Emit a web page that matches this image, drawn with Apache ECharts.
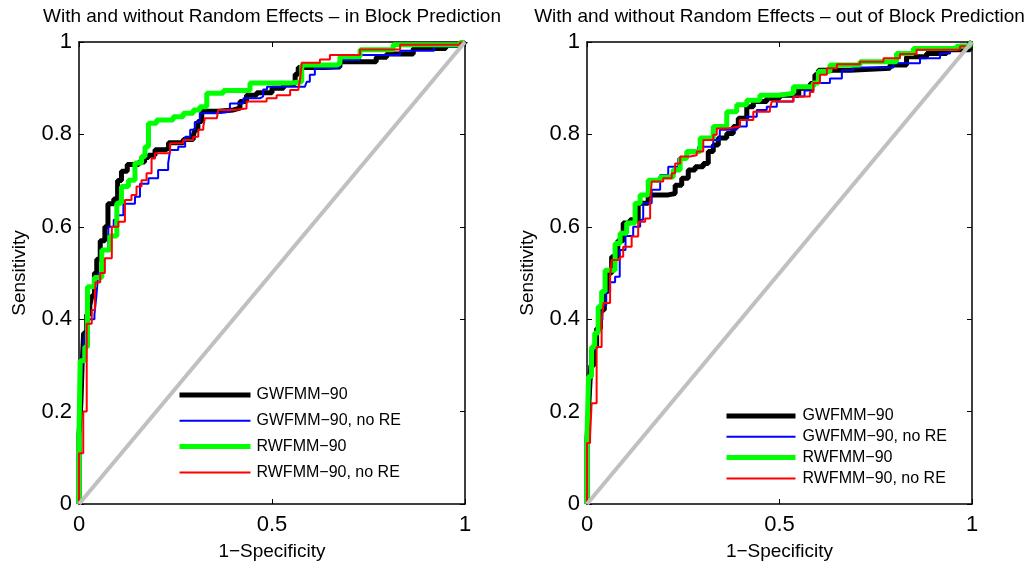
<!DOCTYPE html>
<html><head><meta charset="utf-8">
<script src="https://cdn.jsdelivr.net/npm/echarts@6/dist/echarts.min.js"></script>
<style>html,body{margin:0;padding:0;background:#fff}#c{width:1035px;height:572px}</style>
</head><body><div id="c"></div>
<script>
// ---------- data ----------
const panelTitles = ['With and without Random Effects \u2013 in Block Prediction',
                     'With and without Random Effects \u2013 out of Block Prediction'];
const seriesNames = ['GWFMM\u221290', 'GWFMM\u221290, no RE', 'RWFMM\u221290', 'RWFMM\u221290, no RE'];
const xLabelName = '1\u2212Specificity';
const yLabelName = 'Sensitivity';
const diagonal = [[0, 0], [1, 1]];

// In-block prediction ROC points [1-specificity, sensitivity]
const inGW = [[0,0],[0,0.15],[0.005,0.22],[0.008,0.3],[0.012,0.37],[0.02,0.41],[0.028,0.43],[0.033,0.45],[0.04,0.5],[0.046,0.53],[0.055,0.57],[0.067,0.6],[0.075,0.65],[0.09,0.66],[0.1,0.7],[0.11,0.72],[0.125,0.735],[0.155,0.74],[0.17,0.75],[0.18,0.755],[0.197,0.767],[0.225,0.77],[0.232,0.782],[0.27,0.789],[0.296,0.797],[0.3,0.81],[0.308,0.828],[0.318,0.85],[0.36,0.853],[0.4,0.857],[0.417,0.871],[0.434,0.885],[0.46,0.89],[0.5,0.9],[0.53,0.91],[0.56,0.93],[0.568,0.945],[0.633,0.946],[0.676,0.957],[0.77,0.967],[0.797,0.974],[0.866,0.986],[0.95,0.993],[0.99,0.998],[1,1]];
const inGWnoRE = [[0,0],[0,0.15],[0.005,0.25],[0.01,0.33],[0.015,0.37],[0.025,0.4],[0.04,0.41],[0.045,0.45],[0.05,0.5],[0.06,0.55],[0.076,0.6],[0.09,0.615],[0.1,0.625],[0.115,0.65],[0.145,0.665],[0.158,0.693],[0.18,0.705],[0.205,0.723],[0.231,0.737],[0.236,0.766],[0.257,0.773],[0.275,0.795],[0.288,0.81],[0.3,0.827],[0.313,0.846],[0.357,0.849],[0.391,0.867],[0.426,0.878],[0.469,0.882],[0.477,0.897],[0.487,0.903],[0.585,0.905],[0.59,0.914],[0.598,0.929],[0.611,0.943],[0.637,0.944],[0.676,0.961],[0.728,0.972],[0.832,0.981],[0.92,0.99],[0.987,0.997],[1,1]];
const inRW = [[0,0],[0,0.15],[0.003,0.31],[0.015,0.34],[0.022,0.47],[0.04,0.49],[0.059,0.55],[0.08,0.58],[0.098,0.651],[0.11,0.687],[0.128,0.701],[0.145,0.738],[0.162,0.752],[0.171,0.773],[0.18,0.824],[0.201,0.831],[0.244,0.838],[0.27,0.846],[0.296,0.853],[0.313,0.86],[0.331,0.889],[0.374,0.895],[0.443,0.911],[0.547,0.914],[0.577,0.95],[0.668,0.954],[0.676,0.968],[0.728,0.983],[0.814,0.994],[0.987,0.999],[1,1]];
const inRWnoRE = [[0,0],[0,0.11],[0.011,0.2],[0.02,0.39],[0.033,0.42],[0.041,0.45],[0.043,0.48],[0.055,0.5],[0.067,0.532],[0.085,0.6],[0.102,0.611],[0.119,0.658],[0.136,0.669],[0.149,0.687],[0.162,0.701],[0.175,0.716],[0.188,0.748],[0.197,0.759],[0.227,0.76],[0.236,0.781],[0.27,0.788],[0.296,0.795],[0.309,0.81],[0.322,0.817],[0.326,0.835],[0.357,0.838],[0.361,0.853],[0.4,0.856],[0.434,0.871],[0.486,0.878],[0.512,0.885],[0.547,0.896],[0.568,0.9],[0.573,0.921],[0.577,0.955],[0.624,0.962],[0.65,0.972],[0.728,0.984],[0.832,0.994],[0.987,0.999],[1,1]];

// Out-of-block prediction ROC points
const outGW = [[0,0],[0,0.14],[0.005,0.22],[0.01,0.3],[0.018,0.34],[0.025,0.38],[0.035,0.42],[0.045,0.46],[0.055,0.5],[0.064,0.535],[0.08,0.57],[0.094,0.608],[0.112,0.615],[0.133,0.651],[0.159,0.669],[0.211,0.672],[0.229,0.69],[0.246,0.705],[0.263,0.723],[0.281,0.73],[0.302,0.737],[0.315,0.763],[0.328,0.777],[0.341,0.792],[0.363,0.802],[0.38,0.817],[0.393,0.835],[0.415,0.86],[0.432,0.871],[0.467,0.878],[0.5,0.885],[0.55,0.9],[0.58,0.91],[0.592,0.929],[0.601,0.939],[0.683,0.943],[0.787,0.95],[0.83,0.968],[0.882,0.975],[0.934,0.983],[0.995,0.997],[1,1]];
const outGWnoRE = [[0,0],[0,0.24],[0.008,0.333],[0.02,0.37],[0.03,0.398],[0.04,0.43],[0.05,0.46],[0.06,0.48],[0.073,0.492],[0.085,0.55],[0.1,0.58],[0.12,0.6],[0.138,0.615],[0.146,0.651],[0.168,0.68],[0.19,0.712],[0.211,0.73],[0.237,0.748],[0.259,0.759],[0.289,0.773],[0.328,0.788],[0.345,0.81],[0.389,0.817],[0.415,0.838],[0.441,0.853],[0.467,0.86],[0.493,0.871],[0.536,0.882],[0.565,0.895],[0.588,0.911],[0.631,0.921],[0.662,0.939],[0.692,0.945],[0.796,0.954],[0.865,0.965],[0.917,0.975],[0.943,0.986],[0.969,0.994],[0.995,0.999],[1,1]];
const outRW = [[0,0],[0,0.14],[0.004,0.276],[0.012,0.34],[0.02,0.37],[0.029,0.427],[0.038,0.46],[0.047,0.506],[0.073,0.564],[0.086,0.586],[0.103,0.608],[0.125,0.651],[0.138,0.669],[0.159,0.701],[0.19,0.708],[0.224,0.723],[0.242,0.748],[0.259,0.763],[0.294,0.792],[0.328,0.817],[0.363,0.849],[0.389,0.864],[0.415,0.874],[0.449,0.885],[0.501,0.889],[0.536,0.903],[0.588,0.911],[0.601,0.936],[0.631,0.95],[0.709,0.957],[0.804,0.975],[0.848,0.986],[0.96,0.991],[0.995,0.997],[1,1]];
const outRWnoRE = [[0,0],[0,0.132],[0.008,0.146],[0.012,0.218],[0.025,0.34],[0.038,0.398],[0.043,0.435],[0.06,0.492],[0.064,0.528],[0.086,0.535],[0.094,0.557],[0.116,0.579],[0.133,0.611],[0.151,0.618],[0.164,0.651],[0.168,0.698],[0.198,0.705],[0.22,0.716],[0.229,0.737],[0.242,0.752],[0.268,0.755],[0.285,0.763],[0.302,0.788],[0.328,0.799],[0.337,0.813],[0.363,0.817],[0.397,0.831],[0.432,0.849],[0.475,0.856],[0.48,0.871],[0.536,0.882],[0.579,0.892],[0.588,0.911],[0.605,0.929],[0.623,0.943],[0.649,0.952],[0.709,0.957],[0.77,0.965],[0.813,0.974],[0.856,0.983],[0.969,0.991],[0.995,0.997],[1,1]];

const panelData = [[inGW, inGWnoRE, inRW, inRWnoRE], [outGW, outGWnoRE, outRW, outRWnoRE]];

// ---------- styles ----------
const FONT = "'Liberation Sans', Arial, Helvetica, sans-serif";
const colors = ['#000000', '#0000ff', '#00ff00', '#ff0000'];
const widths = [5, 2, 5, 2];
const grids = [
  {left: 79, top: 42, width: 386, height: 462},
  {left: 587, top: 42, width: 385, height: 462}
];
const legendPos = [
  {left: 177, top: 387, itemWidth: 71, itemGap: 9.8, pad: 1},
  {left: 724, top: 408, itemWidth: 69, itemGap: 4.8, pad: 2}
];

const xAxes = [], yAxes = [], series = [], titles = [], legends = [];
grids.forEach((g, gi) => {
  const common = {type: 'value', min: 0, max: 1, gridIndex: gi,
    axisLine: {show: true, onZero: false, lineStyle: {color: '#000', width: 1.5}},
    axisTick: {show: true, inside: true, length: 5, lineStyle: {color: '#000', width: 1}},
    splitLine: {show: false}};
  xAxes.push(Object.assign({}, common, {position: 'bottom', interval: 0.5,
    name: xLabelName, nameLocation: 'middle', nameGap: 38,
    nameTextStyle: {fontFamily: FONT, fontSize: 19, color: '#000'},
    axisLabel: {fontFamily: FONT, fontSize: 22, color: '#000', margin: 10}}));
  xAxes.push(Object.assign({}, common, {position: 'top', interval: 0.5, axisLabel: {show: false}}));
  yAxes.push(Object.assign({}, common, {position: 'left', interval: 0.2,
    name: yLabelName, nameLocation: 'middle', nameGap: 50,
    nameTextStyle: {fontFamily: FONT, fontSize: 19, color: '#000'},
    axisLabel: {fontFamily: FONT, fontSize: 22, color: '#000', margin: 7}}));
  yAxes.push(Object.assign({}, common, {position: 'right', interval: 0.2, axisLabel: {show: false}}));

  panelData[gi].forEach((d, si) => {
    series.push({type: 'line', name: seriesNames[si], data: d, step: 'end',
      xAxisIndex: gi * 2, yAxisIndex: gi * 2, symbol: 'none', clip: false,
      lineStyle: {color: colors[si], width: widths[si]}, itemStyle: {color: colors[si]},
      z: 2 + si, animation: false});
  });
  series.push({type: 'line', name: 'diag', data: diagonal, xAxisIndex: gi * 2, yAxisIndex: gi * 2,
    symbol: 'none', lineStyle: {color: '#c0c0c0', width: 4}, z: 10, animation: false, silent: true});

  titles.push({text: panelTitles[gi], left: g.left + g.width / 2, textAlign: 'center', top: 7, padding: 0,
    textStyle: {fontFamily: FONT, fontSize: 19, fontWeight: 'normal', color: '#000'}});

  const lp = legendPos[gi];
  legends.push({orient: 'vertical', left: lp.left, top: lp.top, itemWidth: lp.itemWidth, itemHeight: 14,
    itemGap: lp.itemGap, padding: 0, selectedMode: false,
    itemStyle: {color: 'rgba(0,0,0,0)', borderWidth: 0, borderColor: 'rgba(0,0,0,0)', opacity: 0},
    textStyle: {fontFamily: FONT, fontSize: 16, color: '#000', padding: [0, 0, 0, lp.pad]},
    data: seriesNames.map((n, i) => ({name: n,
      lineStyle: {color: colors[i], width: widths[i], opacity: 1}}))});
});

const chart = echarts.init(document.getElementById('c'), null, {renderer: 'canvas'});
chart.setOption({
  animation: false,
  backgroundColor: '#fff',
  title: titles,
  legend: legends,
  grid: grids,
  xAxis: xAxes,
  yAxis: yAxes,
  series: series
});
</script>
</body></html>
